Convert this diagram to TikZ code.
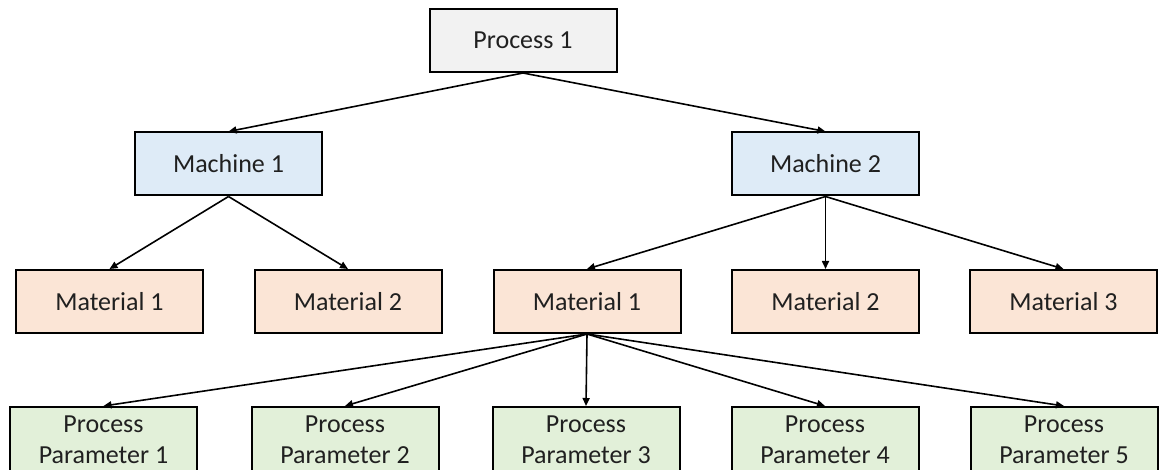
\documentclass[tikz,border=0pt]{standalone}
\usepackage{fontspec}
\setmainfont{Carlito}
\usetikzlibrary{arrows.meta}
\definecolor{procfill}{HTML}{F2F2F2}
\definecolor{machfill}{HTML}{DEEBF7}
\definecolor{matfill}{HTML}{FBE5D6}
\definecolor{parfill}{HTML}{E2F0D9}
\definecolor{txt}{HTML}{202020}
\begin{document}
\begin{tikzpicture}[x=1pt,y=1pt,
  box/.style={draw=black, line width=2pt, minimum width=187pt, minimum height=63pt,
    inner sep=0pt, align=center, text=txt, font=\fontsize{26}{31}\selectfont},
  procbox/.style={box, fill=procfill},
  machbox/.style={box, fill=machfill},
  matbox/.style={box, fill=matfill},
  parbox/.style={box, fill=parfill, minimum height=66pt},
  arr/.style={line width=1.6pt, draw=black, -{Triangle[length=8pt,width=7pt]}}
]
\useasboundingbox (0,0) rectangle (1160,-470);
\node[procbox] (p1) at (523,-40.5) {Process 1};
\node[machbox] (m1) at (228.5,-164) {Machine 1};
\node[machbox] (m2) at (825.5,-164) {Machine 2};
\node[matbox] (a1) at (109.5,-301.5) {Material 1};
\node[matbox] (a2) at (348,-301.5) {Material 2};
\node[matbox] (b1) at (587,-301.5) {Material 1};
\node[matbox] (b2) at (825.5,-301.5) {Material 2};
\node[matbox] (b3) at (1063.5,-301.5) {Material 3};
\node[parbox] (q1) at (103.5,-440) {Process\\Parameter 1};
\node[parbox] (q2) at (345,-440) {Process\\Parameter 2};
\node[parbox] (q3) at (586,-440) {Process\\Parameter 3};
\node[parbox] (q4) at (825,-440) {Process\\Parameter 4};
\node[parbox] (q5) at (1064,-440) {Process\\Parameter 5};
\draw[arr] (p1.south) -- (m1.north);
\draw[arr] (p1.south) -- (m2.north);
\draw[arr] (m1.south) -- (a1.north);
\draw[arr] (m1.south) -- (a2.north);
\draw[arr] (m2.south) -- (b1.north);
\draw[arr] (m2.south) -- (b2.north);
\draw[arr] (m2.south) -- (b3.north);
\foreach \q in {q1,q2,q3,q4,q5}
  \draw[arr] (b1.south) -- (\q.north);
\end{tikzpicture}
\end{document}
